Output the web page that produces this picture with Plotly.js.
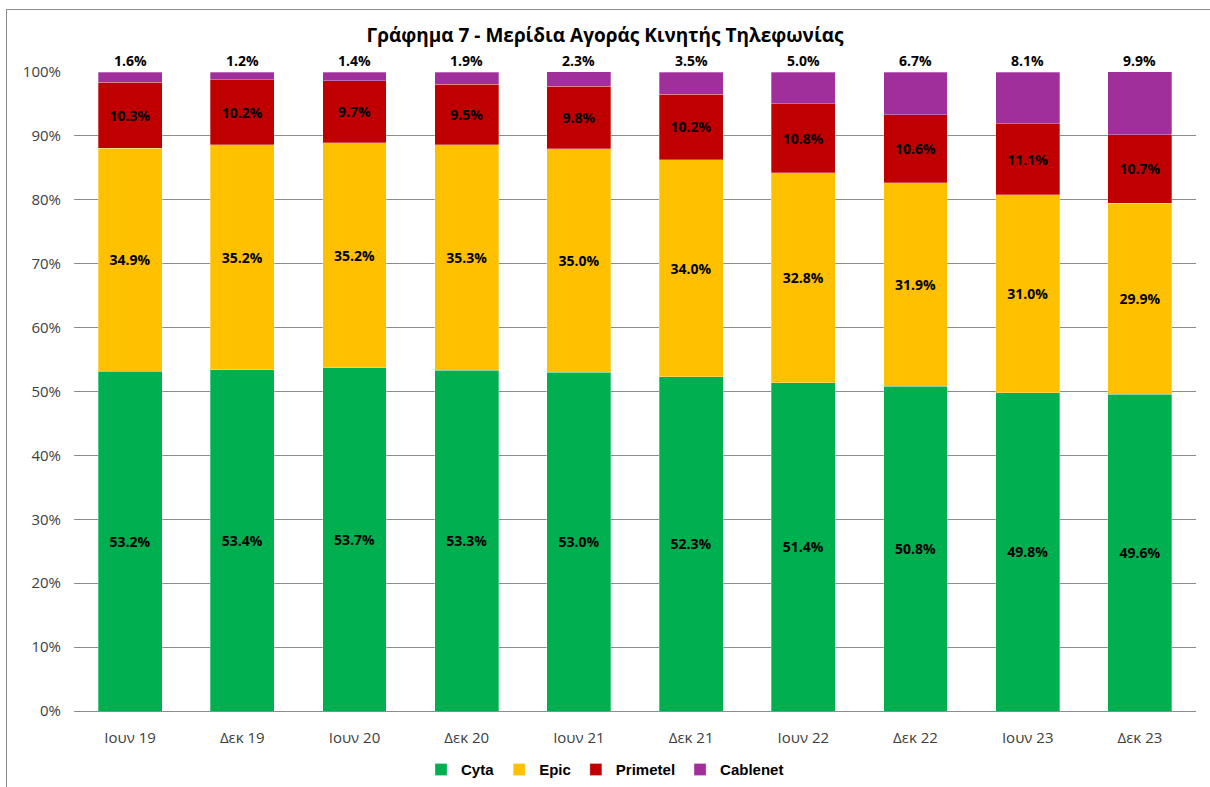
<!DOCTYPE html>
<html>
<head>
<meta charset="utf-8">
<script src="https://cdn.plot.ly/plotly-3.0.1.min.js"></script>
<style>
    body { margin: 0; background: #fff; }
    #chart { position: absolute; left: 0; top: 0; width: 1210px; height: 787px; }
    #frame { position: absolute; left: 6px; top: 9px; width: 1220px; height: 800px;
             border-left: 1px solid #8c8c8c; border-top: 1px solid #8c8c8c; pointer-events: none; }
</style>
</head>
<body>
<div id="chart"></div>
<div id="frame"></div>
<script>
// periods on the x axis
const periodos = ['Ιουν 19', 'Δεκ 19', 'Ιουν 20', 'Δεκ 20', 'Ιουν 21', 'Δεκ 21', 'Ιουν 22', 'Δεκ 22', 'Ιουν 23', 'Δεκ 23'];

// market share per operator (%)
const cyta = [53.2, 53.4, 53.7, 53.3, 53.0, 52.3, 51.4, 50.8, 49.8, 49.6];
const epic = [34.9, 35.2, 35.2, 35.3, 35.0, 34.0, 32.8, 31.9, 31.0, 29.9];
const primetel = [10.3, 10.2, 9.7, 9.5, 9.8, 10.2, 10.8, 10.6, 11.1, 10.7];
const cablenet = [1.6, 1.2, 1.4, 1.9, 2.3, 3.5, 5.0, 6.7, 8.1, 9.9];

const fonte = 'Open Sans, DejaVu Sans, sans-serif';

function serie(nome, valores, cor, comTexto) {
    return {
        type: 'bar',
        name: nome,
        x: periodos,
        y: valores,
        marker: { color: cor, line: { color: 'rgba(255,255,255,0.6)', width: 0.5 } },
        texttemplate: comTexto ? '<b>%{y:.1f}%</b>' : '',
        textposition: 'inside',
        insidetextanchor: 'middle',
        constraintext: 'none',
        textfont: { family: fonte, size: 14, color: '#000' },
        hoverinfo: 'skip'
    };
}

var dados = [
    serie('Cyta', cyta, '#00B050', true),
    serie('Epic', epic, '#FFC000', true),
    serie('Primetel', primetel, '#C00000', true),
    serie('Cablenet', cablenet, '#A02E9B', false)
];

// Cablenet labels sit above the top of each stack
var rotulos = periodos.map((p, i) => ({
    x: p,
    y: 100,
    yanchor: 'bottom',
    text: '<b>' + cablenet[i].toFixed(1) + '%</b>',
    showarrow: false,
    yshift: 0,
    font: { family: fonte, size: 14, color: '#000' }
}));

var layout = {
    width: 1210,
    height: 787,
    barmode: 'stack',
    bargap: 0.43,
    paper_bgcolor: '#fff',
    plot_bgcolor: '#fff',
    margin: { l: 74, r: 14, t: 72, b: 76 },
    title: {
        text: '<b>Γράφημα 7 - Μερίδια Αγοράς Κινητής Τηλεφωνίας</b>',
        font: { family: fonte, size: 19, color: '#000' },
        x: 0.5,
        xanchor: 'center',
        y: 0.955,
        yanchor: 'middle'
    },
    yaxis: {
        range: [0, 100],
        dtick: 10,
        ticksuffix: '%',
        showgrid: true,
        gridcolor: '#8c8c8c',
        gridwidth: 1,
        zeroline: false,
        showline: false,
        ticks: '',
        ticklabelstandoff: 12,
        tickfont: { family: fonte, size: 15, color: '#404040' },
        automargin: false,
        fixedrange: true
    },
    xaxis: {
        showline: true,
        linecolor: '#8c8c8c',
        linewidth: 1,
        ticks: '',
        ticklabelstandoff: 13,
        tickfont: { family: fonte, size: 15, color: '#404040' },
        automargin: false,
        fixedrange: true
    },
    annotations: rotulos,
    legend: {
        orientation: 'h',
        traceorder: 'normal',
        x: 0.5,
        xanchor: 'center',
        xref: 'container',
        y: 0.022,
        yanchor: 'middle',
        yref: 'container',
        font: { family: 'Liberation Sans Narrow, Liberation Sans, sans-serif', size: 15, color: '#000', weight: 'bold' },
        itemwidth: 30,
        tracegroupgap: 0
    },
    showlegend: true
};

Plotly.newPlot('chart', dados, layout, { displayModeBar: false, staticPlot: true });
</script>
</body>
</html>
